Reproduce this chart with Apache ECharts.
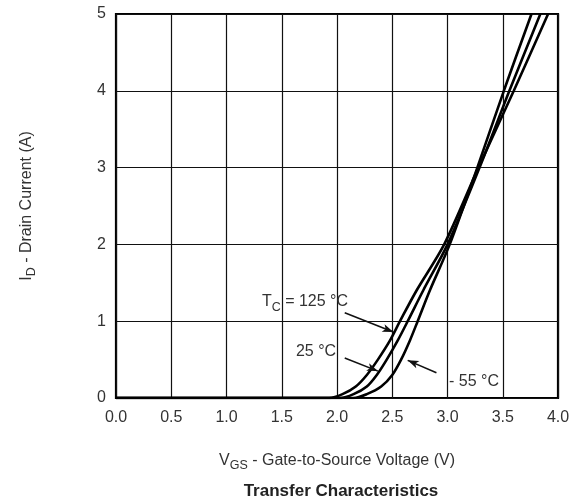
<!DOCTYPE html>
<html>
<head>
<meta charset="utf-8">
<script src="https://cdn.jsdelivr.net/npm/echarts@6/dist/echarts.min.js"></script>
<style>html,body{margin:0;padding:0;background:#fff}#c{width:579px;height:500px}</style>
</head>
<body>
<div id="c"></div>
<script>
// Transfer characteristics: [VGS (V), ID (A)]
const curve125 = [[0,0],[1.93,0],[2.05,0.05],[2.17,0.15],[2.27,0.3],[2.37,0.5],[2.48,0.75],[2.57,1.0],[2.72,1.4],[2.97,2.0],[3.28,3.0],[3.60,4.0],[3.91,5.0]];
const curve25 = [[0,0],[2.03,0],[2.15,0.05],[2.27,0.15],[2.36,0.3],[2.45,0.5],[2.55,0.75],[2.64,1.0],[2.78,1.4],[3.0,2.0],[3.29,3.0],[3.56,4.0],[3.84,5.0]];
const curveM55 = [[0,0],[2.15,0],[2.27,0.05],[2.40,0.15],[2.50,0.3],[2.58,0.5],[2.66,0.75],[2.73,1.0],[2.84,1.4],[3.02,2.0],[3.27,3.0],[3.51,4.0],[3.76,5.0]];
const xTicks = [0,0.5,1,1.5,2,2.5,3,3.5,4];
const yTicks = [0,1,2,3,4,5];
// annotation labels [V, I]
const labels = [
  {text:'{n|T}{s|C}{n| = 125 °C}', at:[1.71,1.25]},
  {text:'{n|25 °C}', at:[1.81,0.60]},
  {text:'{n|- 55 °C}', at:[3.24,0.22]}
];
// arrows: [from, to] in data coordinates
const arrows = [
  [[2.07,1.11],[2.51,0.86]],
  [[2.07,0.52],[2.37,0.35]],
  [[2.90,0.33],[2.64,0.49]]
];

const FONT = 'Liberation Sans, Arial, sans-serif';
const TXT = '#333';
const chart = echarts.init(document.getElementById('c'));
const lineSeries = (name, data) => ({
  name, type:'line', data, smooth:0.3, showSymbol:false, symbol:'none',
  lineStyle:{color:'#000', width:2.6}, z:3, animation:false
});
const rich = (fs, sfs, lh) => ({
  n:{fontSize:fs, color:TXT, fontFamily:FONT, lineHeight:lh, verticalAlign:'middle'},
  s:{fontSize:sfs, color:TXT, fontFamily:FONT, lineHeight:lh, verticalAlign:'bottom'}
});
chart.setOption({
  animation:false,
  backgroundColor:'#fff',
  title:{
    text:'Transfer Characteristics', left:336, top:478, textAlign:'center',
    textStyle:{fontSize:17, fontWeight:'bold', color:'#222', fontFamily:FONT}
  },
  grid:{left:116, right:21, top:14, bottom:102, show:true, borderColor:'#000', borderWidth:2.2, backgroundColor:'transparent'},
  xAxis:{
    type:'value', min:0, max:4, interval:0.5,
    axisLine:{show:false}, axisTick:{show:false},
    splitLine:{show:true, lineStyle:{color:'#111', width:1.2}},
    axisLabel:{fontSize:16, color:TXT, fontFamily:FONT, margin:12, formatter:v=>v.toFixed(1)},
    name:'{n|V}{s|GS}{n| - Gate-to-Source Voltage (V)}', nameLocation:'middle', nameGap:52,
    nameTextStyle:{rich:rich(16,12.5,22)}
  },
  yAxis:{
    type:'value', min:0, max:5, interval:1,
    axisLine:{show:false}, axisTick:{show:false},
    splitLine:{show:true, lineStyle:{color:'#111', width:1.2}},
    axisLabel:{fontSize:16, color:TXT, fontFamily:FONT, margin:10},
    name:'{n|I}{s|D}{n| - Drain Current (A)}', nameLocation:'middle', nameGap:78,
    nameTextStyle:{rich:rich(16,12.5,22)}
  },
  series:[
    lineSeries('125 °C', curve125),
    lineSeries('25 °C', curve25),
    lineSeries('-55 °C', curveM55),
    {
      type:'line', data:[], silent:true, animation:false,
      markLine:{
        silent:true, symbol:['none','arrow'], symbolSize:[6,11],
        lineStyle:{color:'#111', width:1.6, type:'solid'},
        label:{show:false},
        data:arrows.map(a=>[{coord:a[0]},{coord:a[1]}])
      },
      markPoint:{
        silent:true, symbol:'circle', symbolSize:0,
        label:{show:true, position:'inside', rich:rich(16,12.5,24)},
        data:labels.map(l=>({coord:l.at, label:{formatter:l.text}}))
      }
    }
  ]
});
</script>
</body>
</html>
